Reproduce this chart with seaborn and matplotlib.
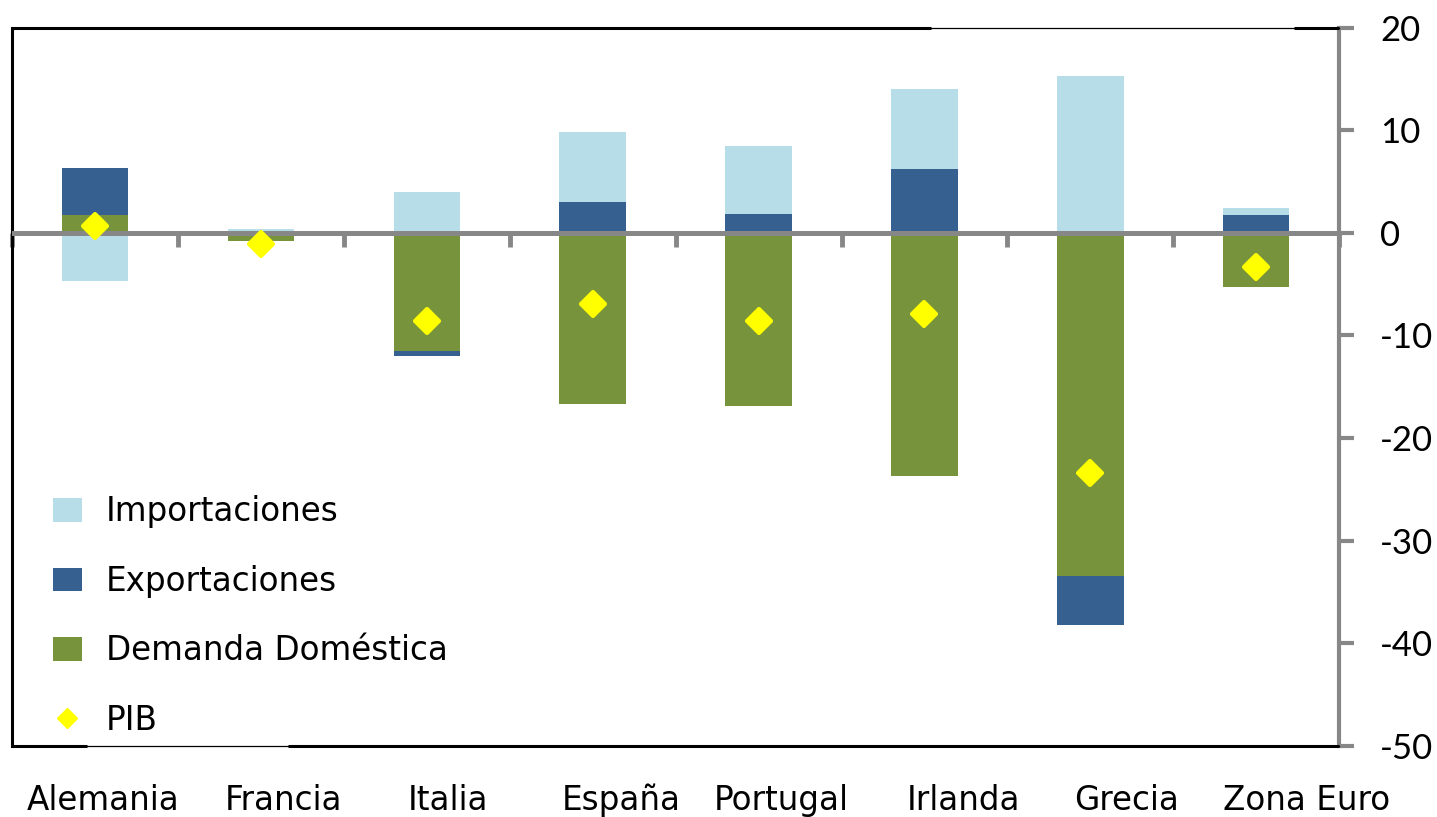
import numpy as np
import pandas as pd
import matplotlib
matplotlib.use("Agg")
import matplotlib.pyplot as plt
import seaborn as sns
from matplotlib.patches import Patch
from matplotlib.lines import Line2D
from matplotlib.markers import MarkerStyle
from matplotlib.transforms import ScaledTranslation

# Contribuciones al crecimiento del PIB (puntos porcentuales)
paises = ["Alemania", "Francia", "Italia", "España", "Portugal",
          "Irlanda", "Grecia", "Zona Euro"]
demanda = [1.7, -0.8, -11.5, -16.7, -16.9, -23.7, -33.4, -5.3]
exportaciones = [4.6, 0.0, -0.5, 3.0, 1.8, 6.2, -4.8, 1.7]
importaciones = [-4.7, 0.4, 4.0, 6.8, 6.7, 7.8, 15.3, 0.7]
pib = [0.7, -1.1, -8.6, -6.9, -8.6, -7.9, -23.4, -3.3]
y_ticks = [-50, -40, -30, -20, -10, 0, 10, 20]

C_DEM = "#77933C"
C_EXP = "#36608F"
C_IMP = "#B7DDE8"
C_PIB = "#FFFF00"
GRIS = "#878787"

sns.set_theme(style="white")
plt.rcParams["font.family"] = ["DejaVu Sans"]
plt.rcParams["axes.unicode_minus"] = False

fig = plt.figure(figsize=(14.37, 8.17), dpi=100)
ax = fig.add_axes([0.00835, 0.0869, 0.9236, 0.8794])

# Barras apiladas: positivos y negativos se acumulan por separado
series = [("Demanda Doméstica", demanda, C_DEM),
          ("Exportaciones", exportaciones, C_EXP),
          ("Importaciones", importaciones, C_IMP)]
pos_base = np.zeros(len(paises))
neg_base = np.zeros(len(paises))
for nombre, vals, color in series:
    v = np.asarray(vals, dtype=float)
    base = np.where(v >= 0, pos_base, neg_base)
    df = pd.DataFrame({"pais": paises, "valor": v})
    sns.barplot(data=df, x="pais", y="valor", color=color, saturation=1,
                width=0.4, bottom=base, errorbar=None, linewidth=0,
                ax=ax, zorder=2)
    pos_base += np.where(v > 0, v, 0)
    neg_base += np.where(v < 0, v, 0)

# PIB
df_pib = pd.DataFrame({"pais": paises, "pib": pib})
sns.pointplot(data=df_pib, x="pais", y="pib", color=C_PIB,
              markers=MarkerStyle("D", joinstyle="round"), linestyle="none",
              markersize=12.5, markeredgewidth=3, markerfacecolor=C_PIB,
              markeredgecolor=C_PIB, errorbar=None, ax=ax, zorder=5)

ax.set_ylim(-50, 20)
ax.set_xlim(-0.5, len(paises) - 0.5)
ax.set_xlabel("")
ax.set_ylabel("")

# Línea de cero
ax.axhline(0, color=GRIS, lw=3.6, zorder=3)

# Eje vertical a la derecha
ax.yaxis.tick_right()
ax.set_yticks(y_ticks)
ax.set_yticklabels([str(t) for t in y_ticks], family=["Lato", "DejaVu Sans"],
                   fontsize=25, color="black")
ax.tick_params(axis="y", which="both", direction="out", length=10.5,
               width=3, color=GRIS, pad=19, right=True, left=False)

# Etiquetas de países
ax.tick_params(axis="x", length=0, pad=27, labelsize=23.5,
               labelcolor="black")
desplaz_px = [8.5, 22.5, 21, 29, 23, 39, 36, 50]
for lab, dx in zip(ax.get_xticklabels(), desplaz_px):
    lab.set_transform(lab.get_transform() +
                      ScaledTranslation(dx / 100, 0, fig.dpi_scale_trans))

# Marco
for s in ["top", "bottom"]:
    ax.spines[s].set_color("black")
    ax.spines[s].set_linewidth(0.9)
ax.spines["left"].set_color("black")
ax.spines["left"].set_linewidth(2.2)
ax.spines["right"].set_color(GRIS)
ax.spines["right"].set_linewidth(3)
for x0, x1, y in [(0, 0.6925, 1), (0.966, 1, 1), (0, 0.0565, 0), (0.208, 1, 0)]:
    ax.plot([x0, x1], [y, y], transform=ax.transAxes, color="black",
            lw=2.2, clip_on=False, solid_capstyle="butt", zorder=6)

# Marcas entre categorías bajo la línea de cero
eje0 = ax.secondary_xaxis(0, transform=ax.transData)
for s in eje0.spines.values():
    s.set_visible(False)
eje0.xaxis.set_ticks_position("bottom")
eje0.set_xticks(np.arange(-0.5, len(paises), 1.0))
eje0.tick_params(axis="x", direction="out", length=10, width=3.5,
                 color=GRIS, labeltop=False, labelbottom=False)

# Leyenda
handles = [Patch(facecolor=C_IMP, edgecolor="none"),
           Patch(facecolor=C_EXP, edgecolor="none"),
           Patch(facecolor=C_DEM, edgecolor="none"),
           Line2D([], [], marker="D", color=C_PIB, linestyle="none",
                  markersize=10)]
labels = ["Importaciones", "Exportaciones", "Demanda Doméstica", "PIB"]
leg = ax.legend(handles, labels, loc="lower left",
                bbox_to_anchor=(0.0309, 0.0125), frameon=False,
                fontsize=23.5, handlelength=0.875, handleheight=0.75,
                handletextpad=0.75, labelspacing=1.12, borderaxespad=0,
                borderpad=0)
for t in leg.get_texts():
    t.set_color("black")

fig.savefig("out.png", dpi=100)
